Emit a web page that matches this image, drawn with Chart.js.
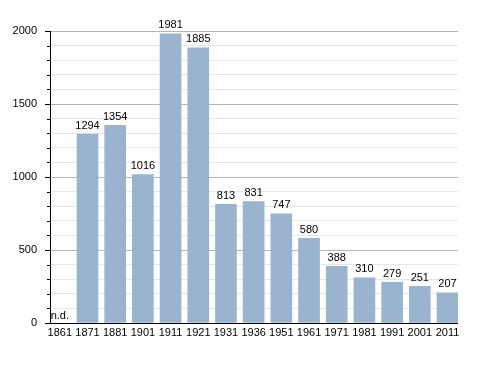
<!DOCTYPE html>
<html>
<head>
<meta charset="utf-8">
<script src="https://cdn.jsdelivr.net/npm/chart.js@4"></script>
<style>
  html, body { margin: 0; padding: 0; background: #fff; }
  #wrap { width: 488px; height: 373px; }
</style>
</head>
<body>
<div id="wrap"><canvas id="popChart" width="488" height="373"></canvas></div>
<script>
// census years and population (null = no data)
const years = ['1861', '1871', '1881', '1901', '1911', '1921', '1931', '1936', '1951', '1961', '1971', '1981', '1991', '2001', '2011'];
const population = [null, 1294, 1354, 1016, 1981, 1885, 813, 831, 747, 580, 388, 310, 279, 251, 207];
const yTickLabels = [0, 500, 1000, 1500, 2000];

const FONT = "'Liberation Sans', Arial, sans-serif";

// value labels above bars + "n.d." for missing values
const barLabels = {
    id: 'barLabels',
    afterDatasetsDraw(chart) {
        const ctx = chart.ctx;
        const meta = chart.getDatasetMeta(0);
        const xs = chart.scales.x, ys = chart.scales.y;
        ctx.save();
        ctx.font = '11px ' + FONT;
        ctx.fillStyle = '#000';
        ctx.textAlign = 'center';
        ctx.textBaseline = 'bottom';
        population.forEach((v, i) => {
            if (v === null) {
                ctx.fillText('n.d.', xs.getPixelForValue(i), ys.getPixelForValue(0) - 2);
            } else {
                const bar = meta.data[i];
                ctx.fillText(String(v), bar.x, bar.y - 3);
            }
        });
        ctx.restore();
    }
};

// small tick marks on the left of the y axis
const yTicks = {
    id: 'yTicks',
    afterDraw(chart) {
        const ctx = chart.ctx;
        const ys = chart.scales.y;
        const left = chart.chartArea.left;
        ctx.save();
        ctx.strokeStyle = '#000';
        ctx.lineWidth = 1;
        for (let v = 0; v <= 2000; v += 100) {
            const y = Math.round(ys.getPixelForValue(v)) + 0.5;
            const len = v % 500 === 0 ? 5 : 3;
            ctx.beginPath();
            ctx.moveTo(left - len, y);
            ctx.lineTo(left, y);
            ctx.stroke();
        }
        ctx.restore();
    }
};

new Chart(document.getElementById('popChart'), {
    type: 'bar',
    data: {
        datasets: [{
            data: population.map((v, i) => ({ x: i, y: v })),
            backgroundColor: '#9ab3cf',
            barThickness: 21,
            borderWidth: 0
        }]
    },
    options: {
        responsive: false,
        animation: false,
        layout: { padding: { top: 31, right: 30, left: 0, bottom: 0 } },
        plugins: {
            legend: { display: false },
            tooltip: { enabled: false }
        },
        scales: {
            x: {
                type: 'linear',
                offset: false,
                min: -0.354,
                max: 14.379,
                afterBuildTicks: (scale) => {
                    scale.ticks = years.map((y, i) => ({ value: i }));
                },
                afterFit: (scale) => { scale.height = 50; },
                grid: { display: false, drawTicks: false },
                border: { display: false },
                ticks: {
                    color: '#000',
                    font: { size: 11, family: FONT },
                    padding: 3,
                    maxRotation: 0,
                    autoSkip: false,
                    callback: (v) => years[v]
                }
            },
            y: {
                min: 0,
                max: 2000,
                afterBuildTicks: (scale) => {
                    const t = [];
                    for (let v = 0; v <= 2000; v += 100) t.push({ value: v });
                    scale.ticks = t;
                },
                afterFit: (scale) => { scale.width = 50; },
                grid: {
                    drawTicks: false,
                    color: (c) => {
                        const v = c.tick.value;
                        if (v === 0) return '#000';
                        return v % 500 === 0 ? '#b4b4b4' : '#e6e6e6';
                    }
                },
                border: { display: true, color: '#000' },
                ticks: {
                    color: '#000',
                    font: { size: 11, family: FONT },
                    padding: 13,
                    autoSkip: false,
                    callback: (v) => (yTickLabels.includes(v) ? String(v) : '')
                }
            }
        }
    },
    plugins: [barLabels, yTicks]
});
</script>
</body>
</html>
